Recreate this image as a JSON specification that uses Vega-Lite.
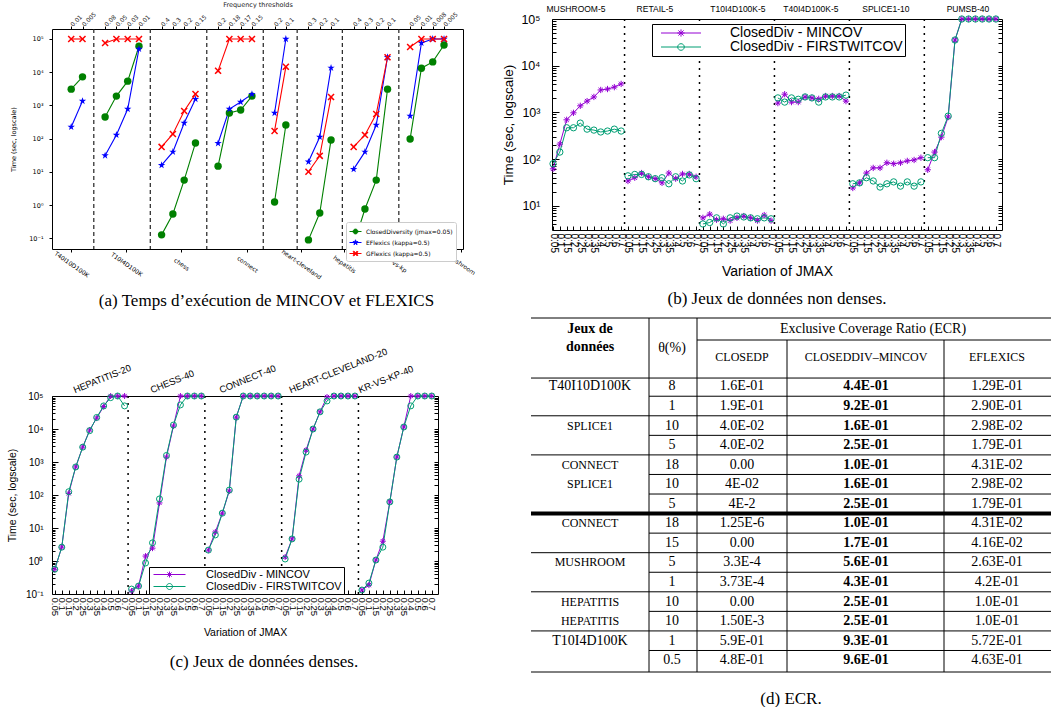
{
  "$schema": "https://vega.github.io/schema/vega-lite/v6.json",
  "background": "white",
  "padding": {"left": 7, "top": 1, "right": 0, "bottom": 0},
  "spacing": 24,
  "resolve": {"scale": {"color": "independent", "shape": "independent"}, "legend": {"color": "independent", "shape": "independent"}},
  "config": {
    "view": {"stroke": "#000", "strokeWidth": 1},
    "axis": {"grid": false, "domain": false, "labelFont": "Liberation Sans", "titleFont": "Liberation Sans", "titleFontWeight": "normal", "labelColor": "#000", "titleColor": "#000", "tickColor": "#000", "labelOverlap": false, "labelFlush": false, "labelBound": false},
    "legend": {"labelFont": "Liberation Sans", "labelColor": "#000", "symbolStrokeWidth": 1, "labelLimit": 400},
    "title": {"font": "Liberation Serif", "fontWeight": "normal", "color": "#000", "fontSize": 17},
    "text": {"font": "Liberation Sans"}
  },
  "hconcat": [
    {
      "resolve": {"scale": {"color": "independent", "shape": "independent"}, "legend": {"color": "independent", "shape": "independent"}},
      "vconcat": [
        {"width": 411, "height": 1, "view": {"stroke": null}, "data": {"values": [{"a": 0}]}, "mark": {"type": "point", "opacity": 0}},
        {
          "resolve": {"scale": {"color": "independent", "shape": "independent"}, "legend": {"color": "independent", "shape": "independent"}},
          "vconcat": [
            {
              "width": 411, "height": 220,
              "title": {"text": "(a) Temps d’exécution de MINCOV et FLEXICS", "orient": "bottom", "offset": 13, "frame": "group", "dx": 9},
              "data": {"values": [
                {"g":1,"p":2,"cd":3090,"ef":224,"gf":100000},
                {"g":1,"p":3,"cd":7240,"ef":1350,"gf":100000},
                {"g":2,"p":5,"cd":447,"ef":30.9,"gf":75900},
                {"g":2,"p":6,"cd":1905,"ef":129,"gf":100000},
                {"g":2,"p":7,"cd":5370,"ef":776,"gf":100000},
                {"g":2,"p":8,"cd":60300,"ef":50100,"gf":100000},
                {"g":3,"p":10,"cd":0.126,"ef":15.8,"gf":56.2},
                {"g":3,"p":11,"cd":0.537,"ef":39.8,"gf":138},
                {"g":3,"p":12,"cd":5.62,"ef":295,"gf":676},
                {"g":3,"p":13,"cd":74.1,"ef":1550,"gf":2190},
                {"g":4,"p":15,"cd":14.8,"ef":72.4,"gf":11000},
                {"g":4,"p":16,"cd":589,"ef":776,"gf":100000},
                {"g":4,"p":17,"cd":724,"ef":1260,"gf":100000},
                {"g":4,"p":18,"cd":1905,"ef":2190,"gf":100000},
                {"g":5,"p":20,"cd":1.23,"ef":589,"gf":170},
                {"g":5,"p":21,"cd":257,"ef":100000,"gf":14500},
                {"g":6,"p":23,"cd":0.089,"ef":20,"gf":10},
                {"g":6,"p":24,"cd":0.575,"ef":112,"gf":30.2},
                {"g":6,"p":25,"cd":91.2,"ef":13500,"gf":1780},
                {"g":7,"p":27,"cd":0.063,"ef":12,"gf":56.2},
                {"g":7,"p":28,"cd":0.76,"ef":39.8,"gf":129},
                {"g":7,"p":29,"cd":5.62,"ef":257,"gf":550},
                {"g":7,"p":30,"cd":3090,"ef":28200,"gf":28200},
                {"g":8,"p":32,"cd":97.7,"ef":479,"gf":57500},
                {"g":8,"p":33,"cd":13200,"ef":75900,"gf":100000},
                {"g":8,"p":34,"cd":20400,"ef":100000,"gf":100000},
                {"g":8,"p":35,"cd":66100,"ef":100000,"gf":100000}
              ]},
              "resolve": {"axis": {"x": "independent", "y": "independent"}},
              "layer": [
                {
                  "data": {"values": [{"b":4},{"b":9},{"b":14},{"b":19},{"b":22},{"b":26},{"b":31}]},
                  "mark": {"type": "rule", "strokeDash": [4, 3], "strokeWidth": 1.2, "color": "#222"},
                  "encoding": {
                    "x": {"field": "b", "type": "quantitative", "scale": {"domain": [0.3, 36.68], "nice": false, "zero": false},
                      "axis": {"orient": "top", "values": [2,3,5,6,7,8,10,11,12,13,15,16,17,18,20,21,23,24,25,27,28,29,30,32,33,34,35],
                        "labelExpr": "['','','0.01','0.005','','0.08','0.05','0.03','0.01','','0.4','0.3','0.2','0.15','','0.2','0.18','0.17','0.15','','0.2','0.1','','0.3','0.2','0.1','','0.4','0.3','0.2','0.1','','0.05','0.01','0.008','0.005'][datum.value]",
                        "labelAngle": -45, "labelAlign": "left", "labelBaseline": "middle", "labelFont": "DejaVu Sans", "labelFontSize": 6, "labelPadding": 1, "tickSize": 3, "labelColor": "#222",
                        "title": "Frequency thresholds", "titleFont": "DejaVu Sans", "titleFontSize": 6.5, "titlePadding": 3, "titleColor": "#222"}}
                  }
                },
                {
                  "transform": [{"fold": ["cd", "ef", "gf"], "as": ["s", "t"]}],
                  "mark": {"type": "point", "filled": false, "size": 0, "opacity": 1},
                  "encoding": {
                    "x": {"field": "p", "type": "quantitative", "scale": {"domain": [0.3, 36.68], "nice": false, "zero": false}, "axis": null},
                    "y": {"field": "t", "type": "quantitative", "scale": {"type": "log", "domain": [0.0473, 200000], "nice": false}, "axis": null},
                    "color": {"field": "s", "type": "nominal", "scale": {"domain": ["cd", "ef", "gf"], "range": ["#008000", "#0000ff", "#ff0000"]},
                      "legend": {"title": null, "orient": "none", "legendX": 294, "legendY": 193, "fillColor": "#fff", "strokeColor": "#ccc", "cornerRadius": 2, "padding": 3, "rowPadding": -5,
                        "labelFont": "DejaVu Sans", "labelFontSize": 6, "labelOffset": 4, "symbolSize": 144,
                        "labelExpr": "datum.value === 'cd' ? 'ClosedDiversity (jmax=0.05)' : datum.value === 'ef' ? 'EFlexics (kappa=0.5)' : 'GFlexics (kappa=0.5)'"}},
                    "shape": {"field": "s", "type": "nominal", "scale": {"domain": ["cd", "ef", "gf"], "range": ["M-1,0L1,0M0.4,0A0.4,0.4 0 1 1 -0.4,0A0.4,0.4 0 1 1 0.4,0Z", "M-1,0L1,0M0,-0.45L0.1,-0.14L0.43,-0.14L0.16,0.05L0.26,0.36L0,0.17L-0.26,0.36L-0.16,0.05L-0.43,-0.14L-0.1,-0.14Z", "M-1,0L1,0M-0.4,-0.28L-0.28,-0.4L0,-0.12L0.28,-0.4L0.4,-0.28L0.12,0L0.4,0.28L0.28,0.4L0,0.12L-0.28,0.4L-0.4,0.28L-0.12,0Z"]}}
                  }
                },
                {
                  "transform": [{"fold": ["cd", "ef", "gf"], "as": ["s", "t"]}],
                  "mark": {"type": "line", "strokeWidth": 1.1},
                  "encoding": {
                    "x": {"field": "p", "type": "quantitative", "scale": {"domain": [0.3, 36.68], "nice": false, "zero": false},
                      "axis": {"orient": "bottom", "values": [2, 6.87, 11.74, 17.57, 22.35, 26.15, 30.75, 36.5],
                        "labelExpr": "['T40I10D100K','T10I4D100K','chess','connect','heart-cleveland','hepatitis','kr-vs-kp','mushroom'][indexof([2, 6.87, 11.74, 17.57, 22.35, 26.15, 30.75, 36.5], datum.value)]",
                        "labelAngle": 35, "labelAlign": "center", "labelBaseline": "middle", "labelFont": "DejaVu Sans", "labelFontSize": 6, "labelPadding": 12, "tickSize": 3, "title": null}},
                    "y": {"field": "t", "type": "quantitative", "scale": {"type": "log", "domain": [0.0473, 200000], "nice": false},
                      "axis": {"orient": "left", "values": [0.1, 1, 10, 100, 1000, 10000, 100000],
                        "labelExpr": "'10' + ['⁻¹','⁰','¹','²','³','⁴','⁵'][round(log(datum.value)/LN10)+1]",
                        "labelFont": "DejaVu Sans", "labelFontSize": 6.5, "tickSize": 3, "labelPadding": 6,
                        "title": "Time (sec, logscale)", "titleFont": "DejaVu Sans", "titleFontSize": 6.5, "titlePadding": 12}},
                    "color": {"field": "s", "type": "nominal", "scale": {"domain": ["cd", "ef", "gf"], "range": ["#008000", "#0000ff", "#ff0000"]}},
                    "detail": {"field": "g", "type": "nominal"}
                  }
                },
                {
                  "transform": [{"fold": ["cd", "ef", "gf"], "as": ["s", "t"]}, {"filter": "datum.s === 'cd'"}],
                  "mark": {"type": "point", "filled": true, "size": 55, "opacity": 1, "shape": "circle"},
                  "encoding": {
                    "x": {"field": "p", "type": "quantitative", "scale": {"domain": [0.3, 36.68], "nice": false, "zero": false}, "axis": null},
                    "y": {"field": "t", "type": "quantitative", "scale": {"type": "log", "domain": [0.0473, 200000], "nice": false}, "axis": null},
                    "color": {"field": "s", "type": "nominal", "scale": {"domain": ["cd", "ef", "gf"], "range": ["#008000", "#0000ff", "#ff0000"]}}
                  }
                },
                {
                  "transform": [{"fold": ["cd", "ef", "gf"], "as": ["s", "t"]}, {"filter": "datum.s === 'ef'"}],
                  "mark": {"type": "point", "filled": true, "size": 60, "opacity": 1, "shape": "M0,-1L0.2245,-0.309L0.951,-0.309L0.363,0.118L0.588,0.809L0,0.382L-0.588,0.809L-0.363,0.118L-0.951,-0.309L-0.2245,-0.309Z"},
                  "encoding": {
                    "x": {"field": "p", "type": "quantitative", "scale": {"domain": [0.3, 36.68], "nice": false, "zero": false}, "axis": null},
                    "y": {"field": "t", "type": "quantitative", "scale": {"type": "log", "domain": [0.0473, 200000], "nice": false}, "axis": null},
                    "color": {"field": "s", "type": "nominal", "scale": {"domain": ["cd", "ef", "gf"], "range": ["#008000", "#0000ff", "#ff0000"]}}
                  }
                },
                {
                  "transform": [{"fold": ["cd", "ef", "gf"], "as": ["s", "t"]}, {"filter": "datum.s === 'gf'"}],
                  "mark": {"type": "point", "filled": true, "size": 50, "opacity": 1, "shape": "M-1,-0.7L-0.7,-1L0,-0.3L0.7,-1L1,-0.7L0.3,0L1,0.7L0.7,1L0,0.3L-0.7,1L-1,0.7L-0.3,0Z"},
                  "encoding": {
                    "x": {"field": "p", "type": "quantitative", "scale": {"domain": [0.3, 36.68], "nice": false, "zero": false}, "axis": null},
                    "y": {"field": "t", "type": "quantitative", "scale": {"type": "log", "domain": [0.0473, 200000], "nice": false}, "axis": null},
                    "color": {"field": "s", "type": "nominal", "scale": {"domain": ["cd", "ef", "gf"], "range": ["#008000", "#0000ff", "#ff0000"]}}
                  }
                }
              ]
            },
            {
              "width": 386, "height": 198,
              "title": {"text": "(c) Jeux de données denses.", "orient": "bottom", "offset": 16, "frame": "group", "dx": 19},
              "data": {"values": [
                {"g":0,"p":0.5,"m":0.562,"f":0.562},{"g":0,"p":1.5,"m":2.63,"f":2.63},{"g":0,"p":2.5,"m":112,"f":126},{"g":0,"p":3.5,"m":708,"f":708},{"g":0,"p":4.5,"m":2820,"f":2820},{"g":0,"p":5.5,"m":9330,"f":8910},{"g":0,"p":6.5,"m":21400,"f":22400},{"g":0,"p":7.5,"m":47900,"f":50100},{"g":0,"p":8.5,"m":100000,"f":89100},{"g":0,"p":9.5,"m":100000,"f":100000},{"g":0,"p":10.5,"m":100000,"f":50100},
                {"g":1,"p":11.5,"m":0.123,"f":0.141},{"g":1,"p":12.5,"m":0.174,"f":0.174},{"g":1,"p":13.5,"m":1.41,"f":0.871},{"g":1,"p":14.5,"m":2.45,"f":3.55},{"g":1,"p":15.5,"m":57.5,"f":75.9},{"g":1,"p":16.5,"m":1410,"f":1580},{"g":1,"p":17.5,"m":12300,"f":13200},{"g":1,"p":18.5,"m":100000,"f":53700},{"g":1,"p":19.5,"m":100000,"f":100000},{"g":1,"p":20.5,"m":100000,"f":100000},{"g":1,"p":21.5,"m":100000,"f":100000},
                {"g":2,"p":22.5,"m":2.14,"f":2.14},{"g":2,"p":23.5,"m":7.59,"f":6.17},{"g":2,"p":24.5,"m":28.2,"f":28.2},{"g":2,"p":25.5,"m":132,"f":141},{"g":2,"p":26.5,"m":22900,"f":22900},{"g":2,"p":27.5,"m":100000,"f":100000},{"g":2,"p":28.5,"m":100000,"f":100000},{"g":2,"p":29.5,"m":100000,"f":100000},{"g":2,"p":30.5,"m":100000,"f":100000},{"g":2,"p":31.5,"m":100000,"f":100000},{"g":2,"p":32.5,"m":100000,"f":100000},
                {"g":3,"p":33.5,"m":1.32,"f":1.15},{"g":3,"p":34.5,"m":4.68,"f":4.68},{"g":3,"p":35.5,"m":380,"f":302},{"g":3,"p":36.5,"m":2290,"f":2000},{"g":3,"p":37.5,"m":10000,"f":10000},{"g":3,"p":38.5,"m":33100,"f":33100},{"g":3,"p":39.5,"m":93300,"f":70800},{"g":3,"p":40.5,"m":100000,"f":100000},{"g":3,"p":41.5,"m":100000,"f":100000},{"g":3,"p":42.5,"m":100000,"f":100000},{"g":3,"p":43.5,"m":100000,"f":100000},
                {"g":4,"p":44.5,"m":0.132,"f":0.132},{"g":4,"p":45.5,"m":0.186,"f":0.214},{"g":4,"p":46.5,"m":1.07,"f":1.07},{"g":4,"p":47.5,"m":3.98,"f":2.63},{"g":4,"p":48.5,"m":61.7,"f":61.7},{"g":4,"p":49.5,"m":1410,"f":1410},{"g":4,"p":50.5,"m":11500,"f":11500},{"g":4,"p":51.5,"m":100000,"f":50100},{"g":4,"p":52.5,"m":100000,"f":100000},{"g":4,"p":53.5,"m":100000,"f":100000},{"g":4,"p":54.5,"m":100000,"f":100000}
              ]},
              "resolve": {"axis": {"x": "independent", "y": "independent"}},
              "layer": [
                {
                  "data": {"values": [{"b":11},{"b":22},{"b":33},{"b":44}]},
                  "mark": {"type": "rule", "strokeDash": [2, 5], "strokeWidth": 1.5, "color": "#000"},
                  "encoding": {"x": {"field": "b", "type": "quantitative", "scale": {"domain": [0.1, 55.4], "nice": false, "zero": false}, "axis": null}}
                },
                {
                  "transform": [{"fold": ["m", "f"], "as": ["s", "t"]}],
                  "mark": {"type": "point", "filled": false, "size": 0, "opacity": 1},
                  "encoding": {
                    "x": {"field": "p", "type": "quantitative", "scale": {"domain": [0.1, 55.4], "nice": false, "zero": false}, "axis": null},
                    "y": {"field": "t", "type": "quantitative", "scale": {"type": "log", "domain": [0.1, 100000], "nice": false}, "axis": null},
                    "color": {"field": "s", "type": "nominal", "scale": {"domain": ["m", "f"], "range": ["#9400d3", "#009e73"]},
                      "legend": {"title": null, "orient": "none", "legendX": 97, "legendY": 171, "fillColor": "#fff", "strokeColor": "#000", "cornerRadius": 0, "padding": 2, "rowPadding": 0,
                        "labelFontSize": 11, "labelOffset": 31, "symbolSize": 100, "symbolOffset": 13,
                        "labelExpr": "datum.value === 'm' ? 'ClosedDiv - MINCOV' : 'ClosedDiv - FIRSTWITCOV'"}},
                    "shape": {"field": "s", "type": "nominal", "scale": {"domain": ["m", "f"], "range": ["M-3.2,0L3.2,0M-0.6,0L0.6,0M0,-0.6L0,0.6M-0.43,-0.43L0.43,0.43M-0.43,0.43L0.43,-0.43", "M-3.2,0L3.2,0M0.6,0A0.6,0.6 0 1 1 -0.6,0A0.6,0.6 0 1 1 0.6,0"]}}
                  }
                },
                {
                  "transform": [{"fold": ["m", "f"], "as": ["s", "t"]}],
                  "mark": {"type": "line", "strokeWidth": 1},
                  "encoding": {
                    "x": {"field": "p", "type": "quantitative", "scale": {"domain": [0.1, 55.4], "nice": false, "zero": false},
                      "axis": {"orient": "bottom", "values": [0.5,1.5,2.5,3.5,4.5,5.5,6.5,7.5,8.5,9.5,10.5,11.5,12.5,13.5,14.5,15.5,16.5,17.5,18.5,19.5,20.5,21.5,22.5,23.5,24.5,25.5,26.5,27.5,28.5,29.5,30.5,31.5,32.5,33.5,34.5,35.5,36.5,37.5,38.5,39.5,40.5,41.5,42.5,43.5,44.5,45.5,46.5,47.5,48.5,49.5,50.5,51.5,52.5,53.5,54.5],
                        "labelExpr": "['0.05','0.1','0.15','0.2','0.25','0.3','0.35','0.4','0.5','0.6','0.7'][floor(datum.value) % 11]",
                        "labelAngle": 90, "labelAlign": "left", "labelBaseline": "middle", "labelFontSize": 9.5, "tickSize": -4, "labelPadding": 7,
                        "title": "Variation of JMAX", "titleFontSize": 10.5, "titlePadding": 12}},
                    "y": {"field": "t", "type": "quantitative", "scale": {"type": "log", "domain": [0.1, 100000], "nice": false},
                      "axis": {"orient": "left", "values": [0.1, 1, 10, 100, 1000, 10000, 100000],
                        "labelExpr": "'10' + ['⁻¹','⁰','¹','²','³','⁴','⁵'][round(log(datum.value)/LN10)+1]",
                        "labelFontSize": 10, "tickSize": -6, "labelPadding": 15, "title": "Time (sec, logscale)", "titleFontSize": 10.5, "titlePadding": 8}},
                    "color": {"field": "s", "type": "nominal", "scale": {"domain": ["m", "f"], "range": ["#9400d3", "#009e73"]}},
                    "detail": {"field": "g", "type": "nominal"}
                  }
                },
                {
                  "transform": [{"fold": ["m", "f"], "as": ["s", "t"]}, {"filter": "datum.s === 'm'"}],
                  "mark": {"type": "point", "filled": false, "size": 36, "strokeWidth": 1, "opacity": 1, "shape": "M-1,0L1,0M0,-1L0,1M-0.7,-0.7L0.7,0.7M-0.7,0.7L0.7,-0.7"},
                  "encoding": {
                    "x": {"field": "p", "type": "quantitative", "scale": {"domain": [0.1, 55.4], "nice": false, "zero": false}, "axis": null},
                    "y": {"field": "t", "type": "quantitative", "scale": {"type": "log", "domain": [0.1, 100000], "nice": false},
                      "axis": {"orient": "left", "values": [0.2,0.3,0.4,0.5,0.6,0.7,0.8,0.9,2,3,4,5,6,7,8,9,20,30,40,50,60,70,80,90,200,300,400,500,600,700,800,900,2000,3000,4000,5000,6000,7000,8000,9000,20000,30000,40000,50000,60000,70000,80000,90000], "labels": false, "tickSize": -3, "title": null}},
                    "color": {"field": "s", "type": "nominal", "scale": {"domain": ["m", "f"], "range": ["#9400d3", "#009e73"]}}
                  }
                },
                {
                  "transform": [{"fold": ["m", "f"], "as": ["s", "t"]}, {"filter": "datum.s === 'f'"}],
                  "mark": {"type": "point", "filled": false, "size": 36, "strokeWidth": 1, "opacity": 1, "shape": "circle"},
                  "encoding": {
                    "x": {"field": "p", "type": "quantitative", "scale": {"domain": [0.1, 55.4], "nice": false, "zero": false}, "axis": null},
                    "y": {"field": "t", "type": "quantitative", "scale": {"type": "log", "domain": [0.1, 100000], "nice": false}, "axis": null},
                    "color": {"field": "s", "type": "nominal", "scale": {"domain": ["m", "f"], "range": ["#9400d3", "#009e73"]}}
                  }
                },
                {
                  "data": {"values": [{"name":"HEPATITIS-20","p":3.54},{"name":"CHESS-40","p":14.57},{"name":"CONNECT-40","p":24.46},{"name":"HEART-CLEVELAND-20","p":34.48},{"name":"KR-VS-KP-40","p":44.37}]},
                  "mark": {"type": "text", "fontSize": 9.5, "angle": -22, "align": "left", "baseline": "alphabetic", "dy": -3},
                  "encoding": {
                    "x": {"field": "p", "type": "quantitative", "scale": {"domain": [0.1, 55.4], "nice": false, "zero": false}, "axis": null},
                    "y": {"datum": 100000, "type": "quantitative", "scale": {"type": "log", "domain": [0.1, 100000], "nice": false},
                      "axis": {"orient": "right", "values": [0.2,0.3,0.4,0.5,0.6,0.7,0.8,0.9,1,2,3,4,5,6,7,8,9,10,20,30,40,50,60,70,80,90,100,200,300,400,500,600,700,800,900,1000,2000,3000,4000,5000,6000,7000,8000,9000,10000,20000,30000,40000,50000,60000,70000,80000,90000], "labels": false, "tickSize": -4, "title": null}},
                    "text": {"field": "name"}
                  }
                }
              ]
            }
          ],
          "spacing": 147, "bounds": "flush"
        }
      ],
      "spacing": 9, "bounds": "flush"
    },
    {
      "resolve": {"scale": {"color": "independent", "shape": "independent"}, "legend": {"color": "independent", "shape": "independent"}},
      "vconcat": [
        {
          "width": 450, "height": 211,
          "title": {"text": "(b) Jeux de données non denses.", "orient": "bottom", "offset": 13, "frame": "group"},
          "data": {"values": [
            {"g":0,"p":0.5,"m":61.7,"f":79.4},{"g":0,"p":1.5,"m":209,"f":141},{"g":0,"p":2.5,"m":692,"f":468},{"g":0,"p":3.5,"m":977,"f":468},{"g":0,"p":4.5,"m":1380,"f":589},{"g":0,"p":5.5,"m":1740,"f":437},{"g":0,"p":6.5,"m":2140,"f":417},{"g":0,"p":7.5,"m":3020,"f":380},{"g":0,"p":8.5,"m":3160,"f":398},{"g":0,"p":9.5,"m":3470,"f":437},{"g":0,"p":10.5,"m":4070,"f":398},
            {"g":1,"p":11.5,"m":33.9,"f":43.7},{"g":1,"p":12.5,"m":39.8,"f":46.8},{"g":1,"p":13.5,"m":50.1,"f":46.8},{"g":1,"p":14.5,"m":41.7,"f":41.7},{"g":1,"p":15.5,"m":38,"f":38},{"g":1,"p":16.5,"m":30.9,"f":39.8},{"g":1,"p":17.5,"m":50.1,"f":29.5},{"g":1,"p":18.5,"m":38,"f":41.7},{"g":1,"p":19.5,"m":47.9,"f":33.9},{"g":1,"p":20.5,"m":47.9,"f":45.7},{"g":1,"p":21.5,"m":41.7,"f":38},
            {"g":2,"p":22.5,"m":5.5,"f":4.07},{"g":2,"p":23.5,"m":6.6,"f":4.37},{"g":2,"p":24.5,"m":5.0,"f":5.5},{"g":2,"p":25.5,"m":5.25,"f":4.07},{"g":2,"p":26.5,"m":4.8,"f":5.5},{"g":2,"p":27.5,"m":5.5,"f":6.0},{"g":2,"p":28.5,"m":6.0,"f":5.75},{"g":2,"p":29.5,"m":5.5,"f":5.5},{"g":2,"p":30.5,"m":4.8,"f":5.25},{"g":2,"p":31.5,"m":6.3,"f":5.5},{"g":2,"p":32.5,"m":4.8,"f":5.25},
            {"g":3,"p":33.5,"m":1580,"f":2040},{"g":3,"p":34.5,"m":2450,"f":1660},{"g":3,"p":35.5,"m":1660,"f":2040},{"g":3,"p":36.5,"m":1660,"f":1905},{"g":3,"p":37.5,"m":2140,"f":2140},{"g":3,"p":38.5,"m":2040,"f":2040},{"g":3,"p":39.5,"m":1950,"f":1660},{"g":3,"p":40.5,"m":2240,"f":2140},{"g":3,"p":41.5,"m":2240,"f":2140},{"g":3,"p":42.5,"m":2240,"f":2140},{"g":3,"p":43.5,"m":1740,"f":2340},
            {"g":4,"p":44.5,"m":24,"f":29.5},{"g":4,"p":45.5,"m":30.9,"f":30.9},{"g":4,"p":46.5,"m":50.1,"f":39.8},{"g":4,"p":47.5,"m":64.6,"f":33.9},{"g":4,"p":48.5,"m":64.6,"f":25.1},{"g":4,"p":49.5,"m":83.2,"f":29.5},{"g":4,"p":50.5,"m":79.4,"f":32.4},{"g":4,"p":51.5,"m":83.2,"f":26.3},{"g":4,"p":52.5,"m":91.2,"f":32.4},{"g":4,"p":53.5,"m":95.5,"f":26.3},{"g":4,"p":54.5,"m":107,"f":32.4},
            {"g":5,"p":55.5,"m":58.9,"f":107},{"g":5,"p":56.5,"m":141,"f":107},{"g":5,"p":57.5,"m":295,"f":355},{"g":5,"p":58.5,"m":794,"f":832},{"g":5,"p":59.5,"m":35500,"f":35500},{"g":5,"p":60.5,"m":100000,"f":100000},{"g":5,"p":61.5,"m":100000,"f":100000},{"g":5,"p":62.5,"m":100000,"f":100000},{"g":5,"p":63.5,"m":100000,"f":100000},{"g":5,"p":64.5,"m":100000,"f":100000},{"g":5,"p":65.5,"m":100000,"f":100000}
          ]},
          "resolve": {"axis": {"x": "independent", "y": "independent"}},
          "layer": [
            {
              "data": {"values": [{"b":11},{"b":22},{"b":33},{"b":44},{"b":55}]},
              "mark": {"type": "rule", "strokeDash": [2, 5], "strokeWidth": 1.5, "color": "#000"},
              "encoding": {"x": {"field": "b", "type": "quantitative", "scale": {"domain": [0.35, 66.4], "nice": false, "zero": false}, "axis": null}}
            },
            {
              "transform": [{"fold": ["m", "f"], "as": ["s", "t"]}],
              "mark": {"type": "point", "filled": false, "size": 0, "opacity": 1},
              "encoding": {
                "x": {"field": "p", "type": "quantitative", "scale": {"domain": [0.35, 66.4], "nice": false, "zero": false}, "axis": null},
                "y": {"field": "t", "type": "quantitative", "scale": {"type": "log", "domain": [3.02, 100000], "nice": false}, "axis": null},
                "color": {"field": "s", "type": "nominal", "scale": {"domain": ["m", "f"], "range": ["#9400d3", "#009e73"]},
                  "legend": {"title": null, "orient": "none", "legendX": 100, "legendY": 5, "fillColor": "#fff", "strokeColor": "#000", "cornerRadius": 0, "padding": 2, "rowPadding": -3,
                    "labelFontSize": 14, "labelOffset": 42, "symbolSize": 144, "symbolOffset": 20, "labelLimit": 400,
                    "labelExpr": "datum.value === 'm' ? 'ClosedDiv - MINCOV' : 'ClosedDiv - FIRSTWITCOV'"}},
                "shape": {"field": "s", "type": "nominal", "scale": {"domain": ["m", "f"], "range": ["M-3.33,0L3.33,0M-0.6,0L0.6,0M0,-0.6L0,0.6M-0.43,-0.43L0.43,0.43M-0.43,0.43L0.43,-0.43", "M-3.33,0L3.33,0M0.55,0A0.55,0.55 0 1 1 -0.55,0A0.55,0.55 0 1 1 0.55,0"]}}
              }
            },
            {
              "transform": [{"fold": ["m", "f"], "as": ["s", "t"]}],
              "mark": {"type": "line", "strokeWidth": 1},
              "encoding": {
                "x": {"field": "p", "type": "quantitative", "scale": {"domain": [0.35, 66.4], "nice": false, "zero": false},
                  "axis": {"orient": "bottom", "values": [0.5,1.5,2.5,3.5,4.5,5.5,6.5,7.5,8.5,9.5,10.5,11.5,12.5,13.5,14.5,15.5,16.5,17.5,18.5,19.5,20.5,21.5,22.5,23.5,24.5,25.5,26.5,27.5,28.5,29.5,30.5,31.5,32.5,33.5,34.5,35.5,36.5,37.5,38.5,39.5,40.5,41.5,42.5,43.5,44.5,45.5,46.5,47.5,48.5,49.5,50.5,51.5,52.5,53.5,54.5,55.5,56.5,57.5,58.5,59.5,60.5,61.5,62.5,63.5,64.5,65.5],
                    "labelExpr": "['0.05','0.1','0.15','0.2','0.25','0.3','0.35','0.4','0.5','0.6','0.7'][floor(datum.value) % 11]",
                    "labelAngle": 90, "labelAlign": "left", "labelBaseline": "middle", "labelFontSize": 10, "tickSize": -4, "labelPadding": 7,
                    "title": "Variation of JMAX", "titleFontSize": 14, "titlePadding": 12}},
                "y": {"field": "t", "type": "quantitative", "scale": {"type": "log", "domain": [3.02, 100000], "nice": false},
                  "axis": {"orient": "left", "values": [10, 100, 1000, 10000, 100000],
                    "labelExpr": "'10' + ['⁻¹','⁰','¹','²','³','⁴','⁵'][round(log(datum.value)/LN10)+1]",
                    "labelFontSize": 12.5, "tickSize": -7, "labelPadding": 19, "title": "Time (sec, logscale)", "titleFontSize": 13.5, "titlePadding": 5}},
                "color": {"field": "s", "type": "nominal", "scale": {"domain": ["m", "f"], "range": ["#9400d3", "#009e73"]}},
                "detail": {"field": "g", "type": "nominal"}
              }
            },
            {
              "transform": [{"fold": ["m", "f"], "as": ["s", "t"]}, {"filter": "datum.s === 'm'"}],
              "mark": {"type": "point", "filled": false, "size": 40, "strokeWidth": 1, "opacity": 1, "shape": "M-1,0L1,0M0,-1L0,1M-0.7,-0.7L0.7,0.7M-0.7,0.7L0.7,-0.7"},
              "encoding": {
                "x": {"field": "p", "type": "quantitative", "scale": {"domain": [0.35, 66.4], "nice": false, "zero": false}, "axis": null},
                "y": {"field": "t", "type": "quantitative", "scale": {"type": "log", "domain": [3.02, 100000], "nice": false},
                  "axis": {"orient": "left", "values": [4,5,6,7,8,9,20,30,40,50,60,70,80,90,200,300,400,500,600,700,800,900,2000,3000,4000,5000,6000,7000,8000,9000,20000,30000,40000,50000,60000,70000,80000,90000], "labels": false, "tickSize": -4, "title": null}},
                "color": {"field": "s", "type": "nominal", "scale": {"domain": ["m", "f"], "range": ["#9400d3", "#009e73"]}}
              }
            },
            {
              "transform": [{"fold": ["m", "f"], "as": ["s", "t"]}, {"filter": "datum.s === 'f'"}],
              "mark": {"type": "point", "filled": false, "size": 40, "strokeWidth": 1, "opacity": 1, "shape": "circle"},
              "encoding": {
                "x": {"field": "p", "type": "quantitative", "scale": {"domain": [0.35, 66.4], "nice": false, "zero": false}, "axis": null},
                "y": {"field": "t", "type": "quantitative", "scale": {"type": "log", "domain": [3.02, 100000], "nice": false}, "axis": null},
                "color": {"field": "s", "type": "nominal", "scale": {"domain": ["m", "f"], "range": ["#9400d3", "#009e73"]}}
              }
            },
            {
              "data": {"values": [{"name":"MUSHROOM-5","p":3.87},{"name":"RETAIL-5","p":15.46},{"name":"T10I4D100K-5","p":27.64},{"name":"T40I4D100K-5","p":38.35},{"name":"SPLICE1-10","p":49.36},{"name":"PUMSB-40","p":61.4}]},
              "mark": {"type": "text", "fontSize": 8.5, "align": "center", "baseline": "alphabetic", "dy": -7},
              "encoding": {
                "x": {"field": "p", "type": "quantitative", "scale": {"domain": [0.35, 66.4], "nice": false, "zero": false}, "axis": null},
                "y": {"datum": 100000, "type": "quantitative", "scale": {"type": "log", "domain": [3.02, 100000], "nice": false},
                  "axis": {"orient": "right", "values": [4,5,6,7,8,9,10,20,30,40,50,60,70,80,90,100,200,300,400,500,600,700,800,900,1000,2000,3000,4000,5000,6000,7000,8000,9000,10000,20000,30000,40000,50000,60000,70000,80000,90000], "labels": false, "tickSize": -4, "title": null}},
                "text": {"field": "name"}
              }
            }
          ]
        },
        {
          "width": 499, "height": 354,
          "view": {"stroke": null},
          "title": {"text": "(d) ECR.", "orient": "bottom", "offset": 18, "frame": "bounds"},
          "layer": [
            {
              "data": {"values": [{"r":-2.5},{"r":0.57},{"r":2.5},{"r":4.5},{"r":9.5},{"r":11.5},{"r":13.5},{"r":15.6}]},
              "mark": {"type": "rule", "color": "#000", "strokeWidth": 1},
              "encoding": {
                "y": {"field": "r", "type": "quantitative", "scale": {"domain": [-2.5, 15.6], "reverse": true, "nice": false, "zero": false}, "axis": null},
                "x": {"datum": 0, "type": "quantitative", "scale": {"domain": [21, 520], "nice": false, "zero": false}, "axis": null},
                "x2": {"datum": 520}
              }
            },
            {
              "data": {"values": [{"r":1.5},{"r":3.5},{"r":5.5},{"r":6.5},{"r":8.5},{"r":10.5},{"r":12.5},{"r":14.5}]},
              "mark": {"type": "rule", "color": "#000", "strokeWidth": 1},
              "encoding": {
                "y": {"field": "r", "type": "quantitative", "scale": {"domain": [-2.5, 15.6], "reverse": true, "nice": false, "zero": false}, "axis": null},
                "x": {"datum": 118, "type": "quantitative", "scale": {"domain": [21, 520], "nice": false, "zero": false}, "axis": null},
                "x2": {"datum": 520}
              }
            },
            {
              "data": {"values": [{"r":-1.375}]},
              "mark": {"type": "rule", "color": "#000", "strokeWidth": 1},
              "encoding": {
                "y": {"field": "r", "type": "quantitative", "scale": {"domain": [-2.5, 15.6], "reverse": true, "nice": false, "zero": false}, "axis": null},
                "x": {"datum": 166, "type": "quantitative", "scale": {"domain": [21, 520], "nice": false, "zero": false}, "axis": null},
                "x2": {"datum": 520}
              }
            },
            {
              "data": {"values": [{"r":7.5}]},
              "mark": {"type": "rule", "color": "#000", "strokeWidth": 4},
              "encoding": {
                "y": {"field": "r", "type": "quantitative", "scale": {"domain": [-2.5, 15.6], "reverse": true, "nice": false, "zero": false}, "axis": null},
                "x": {"datum": 0, "type": "quantitative", "scale": {"domain": [21, 520], "nice": false, "zero": false}, "axis": null},
                "x2": {"datum": 520}
              }
            },
            {
              "data": {"values": [{"c":118},{"c":166}]},
              "mark": {"type": "rule", "color": "#000", "strokeWidth": 1},
              "encoding": {
                "x": {"field": "c", "type": "quantitative", "scale": {"domain": [21, 520], "nice": false, "zero": false}, "axis": null},
                "y": {"datum": -2.5, "type": "quantitative", "scale": {"domain": [-2.5, 15.6], "reverse": true, "nice": false, "zero": false}, "axis": null},
                "y2": {"datum": 15.6}
              }
            },
            {
              "data": {"values": [{"c":256},{"c":413}]},
              "mark": {"type": "rule", "color": "#000", "strokeWidth": 1},
              "encoding": {
                "x": {"field": "c", "type": "quantitative", "scale": {"domain": [21, 520], "nice": false, "zero": false}, "axis": null},
                "y": {"datum": -1.375, "type": "quantitative", "scale": {"domain": [-2.5, 15.6], "reverse": true, "nice": false, "zero": false}, "axis": null},
                "y2": {"datum": 15.6}
              }
            },
            {
              "data": {"values": [{"t":"Jeux de","r":-1.94},{"t":"données","r":-1.02}]},
              "mark": {"type": "text", "font": "Liberation Serif", "fontSize": 14, "fontWeight": "bold", "align": "center", "baseline": "middle"},
              "encoding": {
                "x": {"datum": 59, "type": "quantitative", "scale": {"domain": [21, 520], "nice": false, "zero": false}, "axis": null},
                "y": {"field": "r", "type": "quantitative", "scale": {"domain": [-2.5, 15.6], "reverse": true, "nice": false, "zero": false}, "axis": null},
                "text": {"field": "t"}
              }
            },
            {
              "data": {"values": [{"t":"θ(%)","c":141,"r":-0.97},{"t":"Exclusive Coverage Ratio (ECR)","c":342,"r":-1.94}]},
              "mark": {"type": "text", "font": "Liberation Serif", "fontSize": 14, "align": "center", "baseline": "middle"},
              "encoding": {
                "x": {"field": "c", "type": "quantitative", "scale": {"domain": [21, 520], "nice": false, "zero": false}, "axis": null},
                "y": {"field": "r", "type": "quantitative", "scale": {"domain": [-2.5, 15.6], "reverse": true, "nice": false, "zero": false}, "axis": null},
                "text": {"field": "t"}
              }
            },
            {
              "data": {"values": [{"t":"CLOSEDP","c":211},{"t":"CLOSEDDIV–MINCOV","c":335},{"t":"EFLEXICS","c":466}]},
              "mark": {"type": "text", "font": "Liberation Serif", "fontSize": 12, "align": "center", "baseline": "middle"},
              "encoding": {
                "x": {"field": "c", "type": "quantitative", "scale": {"domain": [21, 520], "nice": false, "zero": false}, "axis": null},
                "y": {"datum": -0.51, "type": "quantitative", "scale": {"domain": [-2.5, 15.6], "reverse": true, "nice": false, "zero": false}, "axis": null},
                "text": {"field": "t"}
              }
            },
            {
              "data": {"name": "tbl", "values": [
                {"r":1,"ds":"T40I10D100K","th":"8","cp":"1.6E-01","mc":"4.4E-01","ef":"1.29E-01"},
                {"r":2,"ds":"","th":"1","cp":"1.9E-01","mc":"9.2E-01","ef":"2.90E-01"},
                {"r":3,"ds":"SPLICE1","th":"10","cp":"4.0E-02","mc":"1.6E-01","ef":"2.98E-02"},
                {"r":4,"ds":"","th":"5","cp":"4.0E-02","mc":"2.5E-01","ef":"1.79E-01"},
                {"r":5,"ds":"CONNECT","th":"18","cp":"0.00","mc":"1.0E-01","ef":"4.31E-02"},
                {"r":6,"ds":"SPLICE1","th":"10","cp":"4E-02","mc":"1.6E-01","ef":"2.98E-02"},
                {"r":7,"ds":"","th":"5","cp":"4E-2","mc":"2.5E-01","ef":"1.79E-01"},
                {"r":8,"ds":"CONNECT","th":"18","cp":"1.25E-6","mc":"1.0E-01","ef":"4.31E-02"},
                {"r":9,"ds":"","th":"15","cp":"0.00","mc":"1.7E-01","ef":"4.16E-02"},
                {"r":10,"ds":"MUSHROOM","th":"5","cp":"3.3E-4","mc":"5.6E-01","ef":"2.63E-01"},
                {"r":11,"ds":"","th":"1","cp":"3.73E-4","mc":"4.3E-01","ef":"4.2E-01"},
                {"r":12,"ds":"HEPATITIS","th":"10","cp":"0.00","mc":"2.5E-01","ef":"1.0E-01"},
                {"r":13,"ds":"HEPATITIS","th":"10","cp":"1.50E-3","mc":"2.5E-01","ef":"1.0E-01"},
                {"r":14,"ds":"T10I4D100K","th":"1","cp":"5.9E-01","mc":"9.3E-01","ef":"5.72E-01"},
                {"r":15,"ds":"","th":"0.5","cp":"4.8E-01","mc":"9.6E-01","ef":"4.63E-01"}
              ]},
              "layer": [
                {
                  "mark": {"type": "text", "font": "Liberation Serif", "align": "center", "baseline": "middle"},
                  "encoding": {
                    "x": {"datum": 59, "type": "quantitative", "scale": {"domain": [21, 520], "nice": false, "zero": false}, "axis": null},
                    "y": {"field": "r", "type": "quantitative", "scale": {"domain": [-2.5, 15.6], "reverse": true, "nice": false, "zero": false}, "axis": null},
                    "text": {"field": "ds"},
                    "size": {"condition": {"test": "indexof(datum.ds, 'T') === 0", "value": 14}, "value": 12}
                  }
                },
                {
                  "mark": {"type": "text", "font": "Liberation Serif", "fontSize": 14, "align": "center", "baseline": "middle"},
                  "encoding": {
                    "x": {"datum": 141, "type": "quantitative", "scale": {"domain": [21, 520], "nice": false, "zero": false}, "axis": null},
                    "y": {"field": "r", "type": "quantitative", "scale": {"domain": [-2.5, 15.6], "reverse": true, "nice": false, "zero": false}, "axis": null},
                    "text": {"field": "th"}
                  }
                },
                {
                  "mark": {"type": "text", "font": "Liberation Serif", "fontSize": 14, "align": "center", "baseline": "middle"},
                  "encoding": {
                    "x": {"datum": 211, "type": "quantitative", "scale": {"domain": [21, 520], "nice": false, "zero": false}, "axis": null},
                    "y": {"field": "r", "type": "quantitative", "scale": {"domain": [-2.5, 15.6], "reverse": true, "nice": false, "zero": false}, "axis": null},
                    "text": {"field": "cp"}
                  }
                },
                {
                  "mark": {"type": "text", "font": "Liberation Serif", "fontSize": 14, "fontWeight": "bold", "align": "center", "baseline": "middle"},
                  "encoding": {
                    "x": {"datum": 335, "type": "quantitative", "scale": {"domain": [21, 520], "nice": false, "zero": false}, "axis": null},
                    "y": {"field": "r", "type": "quantitative", "scale": {"domain": [-2.5, 15.6], "reverse": true, "nice": false, "zero": false}, "axis": null},
                    "text": {"field": "mc"}
                  }
                },
                {
                  "mark": {"type": "text", "font": "Liberation Serif", "fontSize": 14, "align": "center", "baseline": "middle"},
                  "encoding": {
                    "x": {"datum": 466, "type": "quantitative", "scale": {"domain": [21, 520], "nice": false, "zero": false}, "axis": null},
                    "y": {"field": "r", "type": "quantitative", "scale": {"domain": [-2.5, 15.6], "reverse": true, "nice": false, "zero": false}, "axis": null},
                    "text": {"field": "ef"}
                  }
                }
              ]
            }
          ]
        }
      ],
      "spacing": 88, "bounds": "flush"
    }
  ]
}
